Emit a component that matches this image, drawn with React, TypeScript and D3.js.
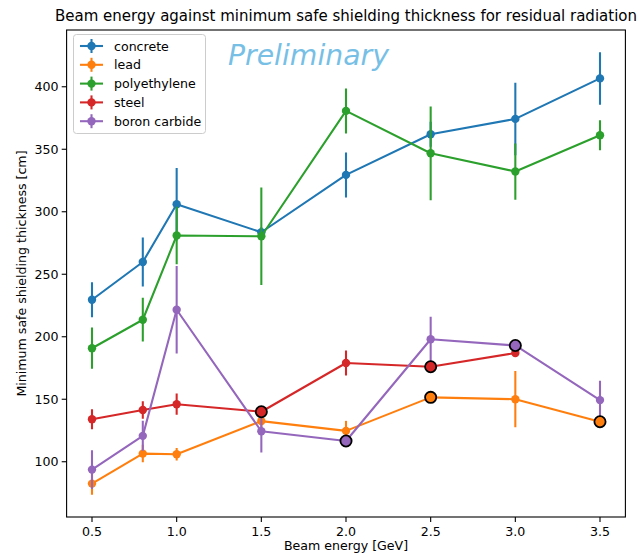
import React from "react";
import * as d3 from "d3";

const energies = [0.5, 0.8, 1.0, 1.5, 2.0, 2.5, 3.0, 3.5];

const concrete = [229.6, 259.8, 306, 283.6, 329.5, 362, 374.3, 406.7];
const concreteErr = [14, 19.7, 29, 4, 18, 10, 29, 21];

const lead = [82.5, 106.5, 106, 132.5, 124.7, 151.5, 150, 132];
const leadErr = [9, 7, 5, 5, 8, 0, 22.5, 0];

const polyethylene = [190.8, 213.6, 281, 280.4, 380.7, 346.8, 332.2, 361.2];
const polyethyleneErr = [16.5, 17.5, 23, 39, 18, 37.5, 22.5, 12];

const steel = [134, 141.4, 146, 140, 179, 176, 187];
const steelErr = [8, 7, 8.5, 0, 10, 0, 3];

const boronCarbide = [93.7, 120.7, 221.6, 124.4, 116.6, 198, 193, 149.3];
const boronCarbideErr = [15.5, 12, 35, 17, 0, 18, 0, 15.5];

// indices of points drawn with a black outline
const leadFlagged = [5, 7];
const steelFlagged = [3, 5];
const boronFlagged = [4, 6];

const xTicks = [0.5, 1.0, 1.5, 2.0, 2.5, 3.0, 3.5];
const yTicks = [100, 150, 200, 250, 300, 350, 400];

const seriesNames = ["concrete", "lead", "polyethylene", "steel", "boron carbide"];
const colors = ["#1f77b4", "#ff7f0e", "#2ca02c", "#d62728", "#9467bd"];

const W = 638;
const H = 554;
const M = { left: 66.6, right: 625.4, top: 30, bottom: 517 };
const FONT = "DejaVu Sans, sans-serif";
const FS = 12.6;

export default function App() {
  const series = [
    { vals: concrete, errs: concreteErr, flagged: [] as number[] },
    { vals: lead, errs: leadErr, flagged: leadFlagged },
    { vals: polyethylene, errs: polyethyleneErr, flagged: [] as number[] },
    { vals: steel, errs: steelErr, flagged: steelFlagged },
    { vals: boronCarbide, errs: boronCarbideErr, flagged: boronFlagged },
  ];

  const allLo: number[] = [];
  const allHi: number[] = [];
  series.forEach((s) =>
    s.vals.forEach((v, i) => {
      allLo.push(v - s.errs[i]);
      allHi.push(v + s.errs[i]);
    })
  );
  const yMin = d3.min(allLo)!;
  const yMax = d3.max(allHi)!;
  const yPad = (yMax - yMin) * 0.05;
  const xMin = d3.min(energies)!;
  const xMax = d3.max(energies)!;
  const xPad = (xMax - xMin) * 0.05;

  const x = d3.scaleLinear().domain([xMin - xPad, xMax + xPad]).range([M.left, M.right]);
  const y = d3.scaleLinear().domain([yMin - yPad, yMax + yPad]).range([M.bottom, M.top]);

  const line = d3
    .line<[number, number]>()
    .x((d) => x(d[0]))
    .y((d) => y(d[1]));

  const lw = 2.08;
  const mr = 4.2;

  return (
    <svg width={W} height={H} style={{ display: "block", position: "absolute", left: 0, top: 0 }} fontFamily={FONT}>
      <rect x={0} y={0} width={W} height={H} fill="white" />
      <defs>
        <clipPath id="plotclip">
          <rect x={M.left} y={M.top} width={M.right - M.left} height={M.bottom - M.top} />
        </clipPath>
      </defs>
      <text x={(M.left + M.right) / 2} y={21} textAnchor="middle" fontSize={15} fill="#000">
        Beam energy against minimum safe shielding thickness for residual radiation
      </text>

      <g clipPath="url(#plotclip)">
        {series.map((s, si) => {
          const pts: [number, number][] = s.vals.map((v, i) => [energies[i], v]);
          return (
            <g key={si}>
              <path d={line(pts)!} fill="none" stroke={colors[si]} strokeWidth={lw} strokeLinejoin="round" />
              {pts.map((p, i) =>
                s.errs[i] > 0 ? (
                  <line
                    key={"e" + i}
                    x1={x(p[0])}
                    x2={x(p[0])}
                    y1={y(p[1] - s.errs[i])}
                    y2={y(p[1] + s.errs[i])}
                    stroke={colors[si]}
                    strokeWidth={lw}
                  />
                ) : null
              )}
              {pts.map((p, i) => (
                <circle key={"m" + i} cx={x(p[0])} cy={y(p[1])} r={mr} fill={colors[si]} />
              ))}
            </g>
          );
        })}
        {series.map((s, si) =>
          s.flagged.map((i) => (
            <circle
              key={"f" + si + "-" + i}
              cx={x(energies[i])}
              cy={y(s.vals[i])}
              r={5.6}
              fill={colors[si]}
              stroke="#000"
              strokeWidth={1.8}
            />
          ))
        )}
      </g>

      <text x={228} y={65} fontSize={28.3} fontStyle="italic" fill="#78bfe6" fontFamily={FONT}>
        Preliminary
      </text>

      {/* axes frame */}
      <rect x={M.left} y={M.top} width={M.right - M.left} height={M.bottom - M.top} fill="none" stroke="#000" strokeWidth={1.1} />

      {/* x ticks */}
      {xTicks.map((t) => (
        <g key={"xt" + t}>
          <line x1={x(t)} x2={x(t)} y1={M.bottom} y2={M.bottom + 4.9} stroke="#000" strokeWidth={1.1} />
          <text x={x(t)} y={M.bottom + 18.5} textAnchor="middle" fontSize={FS} fill="#000">
            {t.toFixed(1)}
          </text>
        </g>
      ))}
      {/* y ticks */}
      {yTicks.map((t) => (
        <g key={"yt" + t}>
          <line x1={M.left - 4.9} x2={M.left} y1={y(t)} y2={y(t)} stroke="#000" strokeWidth={1.1} />
          <text x={M.left - 8} y={y(t) + 4.5} textAnchor="end" fontSize={FS} fill="#000">
            {t}
          </text>
        </g>
      ))}

      <text x={(M.left + M.right) / 2} y={550} textAnchor="middle" fontSize={FS} fill="#000">
        Beam energy [GeV]
      </text>
      <text
        transform={`translate(26, ${(M.top + M.bottom) / 2}) rotate(-90)`}
        textAnchor="middle"
        fontSize={FS}
        fill="#000"
      >
        Minimum safe shielding thickness [cm]
      </text>

      {/* legend */}
      <rect x={73.5} y={34.5} width={132} height={99} rx={3} fill="white" fillOpacity={0.8} stroke="#cccccc" strokeWidth={1} />
      {seriesNames.map((name, i) => {
        const cy = 46 + i * 18.8;
        return (
          <g key={name}>
            <line x1={80} x2={103} y1={cy} y2={cy} stroke={colors[i]} strokeWidth={lw} />
            <line x1={91.5} x2={91.5} y1={cy - 7} y2={cy + 7} stroke={colors[i]} strokeWidth={lw} />
            <circle cx={91.5} cy={cy} r={mr} fill={colors[i]} />
            <text x={114} y={cy + 4.5} fontSize={FS} fill="#000">
              {name}
            </text>
          </g>
        );
      })}
    </svg>
  );
}
